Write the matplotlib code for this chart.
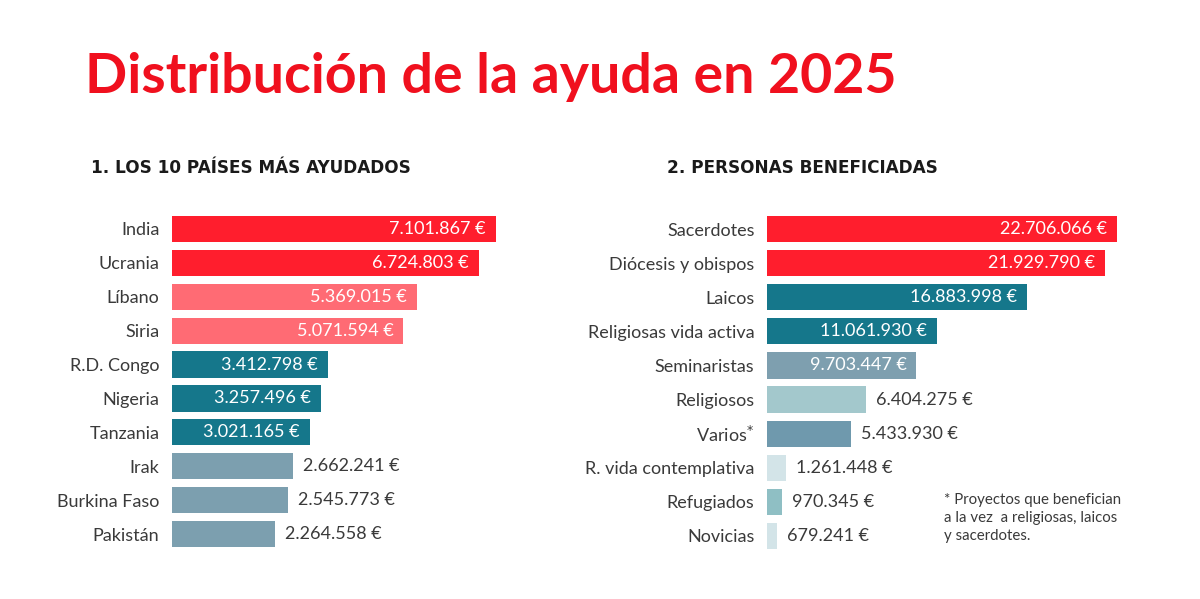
import matplotlib.pyplot as plt

plt.rcParams['font.family'] = ['Lato', 'DejaVu Sans']

# left panel: top 10 countries
paises = ['India', 'Ucrania', 'Líbano', 'Siria', 'R.D. Congo', 'Nigeria',
          'Tanzania', 'Irak', 'Burkina Faso', 'Pakistán']
ayuda_paises = [7101867, 6724803, 5369015, 5071594, 3412798, 3257496,
                3021165, 2662241, 2545773, 2264558]
colores_paises = ['#FF1E2D', '#FF1E2D', '#FF6B74', '#FF6B74', '#15778B',
                  '#15778B', '#15778B', '#7C9FAF', '#7C9FAF', '#7C9FAF']
dentro_paises = 7  # first n labels drawn inside the bar

# right panel: beneficiaries
personas = ['Sacerdotes', 'Diócesis y obispos', 'Laicos', 'Religiosas vida activa',
            'Seminaristas', 'Religiosos', 'Varios$^{*}$', 'R. vida contemplativa',
            'Refugiados', 'Novicias']
ayuda_personas = [22706066, 21929790, 16883998, 11061930, 9703447, 6404275,
                  5433930, 1261448, 970345, 679241]
colores_personas = ['#FF1E2D', '#FF1E2D', '#15778B', '#15778B', '#7E9FAF',
                    '#A3C8CC', '#6F99AD', '#D3E4E8', '#8FBFC4', '#D3E4E8']
dentro_personas = 5


def fmt(v):
    return f'{v:,}'.replace(',', '.') + ' €'


def panel(ax, labels, values, colors, n_in, xmax):
    y = range(len(labels))
    ax.barh(y, values, height=0.77, color=colors)
    ax.set_xlim(0, xmax)
    ax.set_ylim(len(labels) - 0.5, -0.5)
    pad = xmax * 0.025
    for i, v in enumerate(values):
        if i < n_in:
            ax.text(v - pad, i, fmt(v), ha='right', va='center',
                    color='white', fontsize=13)
        else:
            ax.text(v + pad, i, fmt(v), ha='left', va='center',
                    color='#3a3a3a', fontsize=13)
    ax.set_yticks(list(y))
    ax.set_yticklabels(labels, fontsize=13, color='#3a3a3a')
    ax.tick_params(axis='y', length=0, pad=9)
    ax.set_xticks([])
    for s in ax.spines.values():
        s.set_visible(False)


W, H = 1200, 599
fig = plt.figure(figsize=(12, 5.99), dpi=100)

ax1 = fig.add_axes([172 / W, 1 - 551 / H, 400 / W, 339 / H])
panel(ax1, paises, ayuda_paises, colores_paises, dentro_paises, 400 / 45.6 * 1e6)

ax2 = fig.add_axes([767 / W, 1 - 553 / H, 400 / W, 341 / H])
panel(ax2, personas, ayuda_personas, colores_personas, dentro_personas, 400 / 15.4 * 1e6)

fig.text(85 / W, 1 - 77 / H, 'Distribución de la ayuda en 2025', color='#F0101E',
         fontsize=40, fontweight='bold', va='center', ha='left')
fig.text(91 / W, 1 - 168 / H, '1. LOS 10 PAÍSES MÁS AYUDADOS', color='#1a1a1a',
         fontsize=12.2, fontweight='bold', va='center', ha='left', family='DejaVu Sans')
fig.text(667 / W, 1 - 168 / H, '2. PERSONAS BENEFICIADAS', color='#1a1a1a',
         fontsize=12.2, fontweight='bold', va='center', ha='left', family='DejaVu Sans')
fig.text(944 / W, 1 - 518 / H,
         '* Proyectos que benefician\na la vez  a religiosas, laicos\ny sacerdotes.',
         color='#3a3a3a', fontsize=10.8, va='center', ha='left', linespacing=1.4)

fig.savefig('out.png', dpi=100, facecolor='white')
